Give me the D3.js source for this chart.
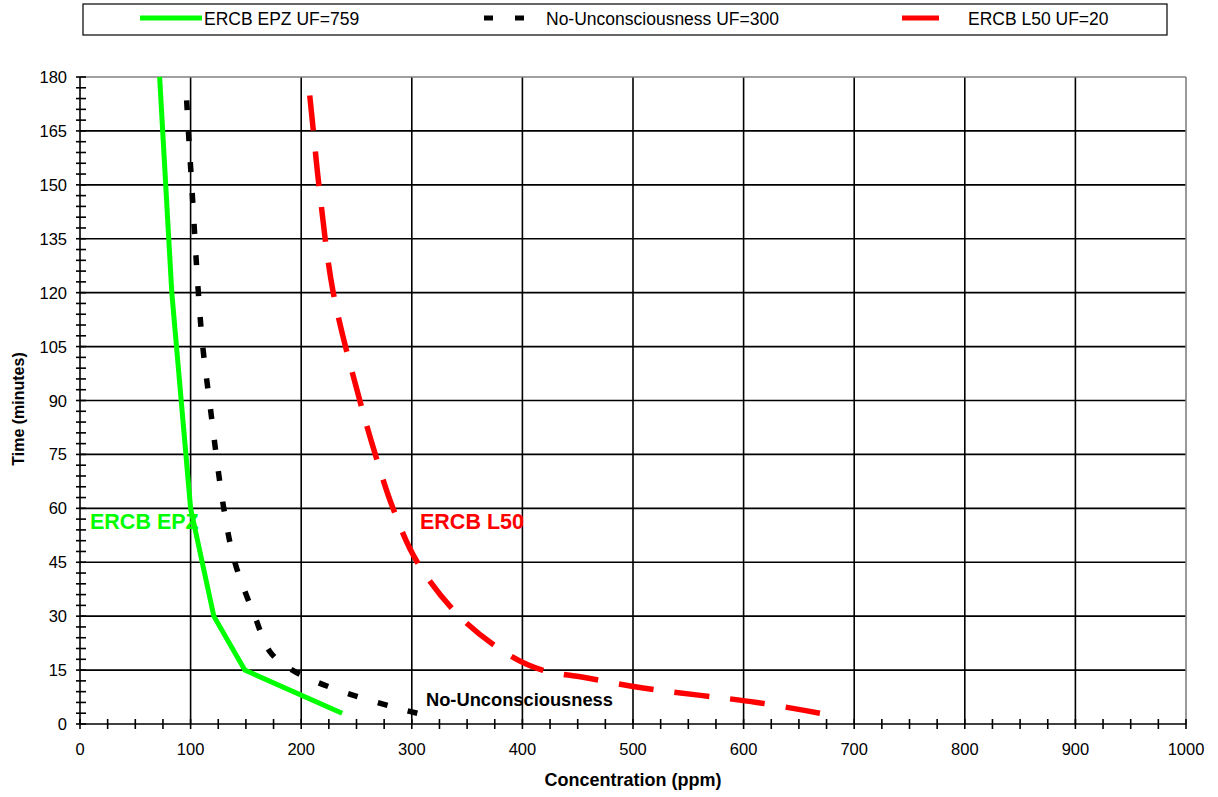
<!DOCTYPE html>
<html>
<head>
<meta charset="utf-8">
<script src="https://cdn.jsdelivr.net/npm/d3@7"></script>
<style>
  body { margin: 0; background: #fff; }
  svg { font-family: Arial, "Liberation Sans", sans-serif; }
</style>
</head>
<body>
<svg id="chart" width="1218" height="797"></svg>
<script>
// Data (time in minutes, concentration in ppm)
const epzTime = [3, 15, 30, 60, 120, 180];
const epzConc = [237, 149, 121, 100, 83, 72];

const unconTime = [3, 5, 10, 15, 20, 30, 45, 60, 90, 105, 120, 150, 165, 176];
const unconConc = [305, 280, 228, 192, 172, 158, 140, 130, 117, 111, 107, 101, 98, 96];

const l50Time = [3, 6, 10, 13, 15, 19, 30, 45, 60, 75, 90, 120, 150, 165, 180];
const l50Conc = [669, 612, 509, 455, 418, 389, 343, 305, 283, 267, 253, 229, 216, 211, 206];

const seriesNames = ['ERCB EPZ UF=759', 'No-Unconsciousness UF=300', 'ERCB L50 UF=20'];
const xTicks = [0, 100, 200, 300, 400, 500, 600, 700, 800, 900, 1000];
const yTicks = [0, 15, 30, 45, 60, 75, 90, 105, 120, 135, 150, 165, 180];

const svg = d3.select('#chart');
const plotLeft = 80, plotRight = 1186, plotTop = 77, plotBottom = 724;

const x = d3.scaleLinear().domain([0, 1000]).range([plotLeft, plotRight]);
const y = d3.scaleLinear().domain([0, 180]).range([plotBottom, plotTop]);

// Gridlines
svg.append('g')
    .selectAll('line')
    .data(xTicks.slice(1, -1))
    .enter().append('line')
    .attr('x1', d => x(d)).attr('x2', d => x(d))
    .attr('y1', plotTop).attr('y2', plotBottom)
    .attr('stroke', '#000').attr('stroke-width', 1.6);

svg.append('g')
    .selectAll('line')
    .data(yTicks.slice(1, -1))
    .enter().append('line')
    .attr('x1', plotLeft).attr('x2', plotRight)
    .attr('y1', d => y(d)).attr('y2', d => y(d))
    .attr('stroke', '#000').attr('stroke-width', 1.6);

// Plot border top / right (grey)
svg.append('line').attr('x1', plotLeft).attr('x2', plotRight).attr('y1', plotTop).attr('y2', plotTop)
    .attr('stroke', '#808080').attr('stroke-width', 1.6);
svg.append('line').attr('x1', plotRight).attr('x2', plotRight).attr('y1', plotTop).attr('y2', plotBottom)
    .attr('stroke', '#808080').attr('stroke-width', 1.6);

// Axes with crossing minor ticks
const xAxis = svg.append('g');
xAxis.append('line').attr('x1', plotLeft).attr('x2', plotRight).attr('y1', plotBottom).attr('y2', plotBottom)
    .attr('stroke', '#000').attr('stroke-width', 1.6);
xAxis.selectAll('line.tk').data(d3.range(0, 1001, 25)).enter().append('line')
    .attr('class', 'tk')
    .attr('x1', d => x(d)).attr('x2', d => x(d))
    .attr('y1', plotBottom - 5).attr('y2', plotBottom + 5)
    .attr('stroke', '#000').attr('stroke-width', 1.6);
xAxis.selectAll('text').data(xTicks).enter().append('text')
    .attr('x', d => x(d)).attr('y', plotBottom + 31)
    .attr('text-anchor', 'middle')
    .style('font-size', '16.5px')
    .text(d => d);

const yAxis = svg.append('g');
yAxis.append('line').attr('x1', plotLeft).attr('x2', plotLeft).attr('y1', plotTop).attr('y2', plotBottom)
    .attr('stroke', '#000').attr('stroke-width', 1.6);
yAxis.selectAll('line.tk').data(d3.range(0, 181, 3)).enter().append('line')
    .attr('class', 'tk')
    .attr('x1', plotLeft - 4).attr('x2', plotLeft + 6)
    .attr('y1', d => y(d)).attr('y2', d => y(d))
    .attr('stroke', '#000').attr('stroke-width', 1.6);
yAxis.selectAll('text').data(yTicks).enter().append('text')
    .attr('x', plotLeft - 13).attr('y', d => y(d) + 6)
    .attr('text-anchor', 'end')
    .style('font-size', '16.5px')
    .text(d => d);

// Axis titles
svg.append('text')
    .attr('x', 633).attr('y', 786)
    .attr('text-anchor', 'middle')
    .style('font-size', '18px').style('font-weight', 'bold')
    .text('Concentration (ppm)');
svg.append('text')
    .attr('transform', `translate(24, 409) rotate(-90)`)
    .attr('text-anchor', 'middle')
    .style('font-size', '16px').style('font-weight', 'bold')
    .text('Time (minutes)');

// Series lines
const lineLinear = d3.line().x(d => x(d[0])).y(d => y(d[1]));
const lineSmooth = d3.line().x(d => x(d[0])).y(d => y(d[1])).curve(d3.curveCatmullRom.alpha(0.5));

const plot = svg.append('g');
plot.append('path')
    .datum(epzConc.map((c, i) => [c, epzTime[i]]))
    .attr('d', lineLinear)
    .attr('fill', 'none').attr('stroke', '#00ff00').attr('stroke-width', 5);

plot.append('path')
    .datum(unconConc.map((c, i) => [c, unconTime[i]]))
    .attr('d', lineSmooth)
    .attr('fill', 'none').attr('stroke', '#000').attr('stroke-width', 5.5)
    .attr('stroke-dasharray', '10,21');

plot.append('path')
    .datum(l50Conc.map((c, i) => [c, l50Time[i]]))
    .attr('d', lineSmooth)
    .attr('fill', 'none').attr('stroke', '#ff0000').attr('stroke-width', 5.5)
    .attr('stroke-dasharray', '35,21');

// In-plot labels
svg.append('text').attr('x', 90).attr('y', 529)
    .style('font-size', '21.5px').style('font-weight', 'bold').attr('fill', '#00ff00')
    .text('ERCB EPZ');
svg.append('text').attr('x', 420).attr('y', 529)
    .style('font-size', '21.5px').style('font-weight', 'bold').attr('fill', '#ff0000')
    .text('ERCB L50');
svg.append('text').attr('x', 426).attr('y', 706)
    .style('font-size', '18.3px').style('font-weight', 'bold').attr('fill', '#000')
    .text('No-Unconsciousness');

// Legend
const legend = svg.append('g');
legend.append('rect').attr('x', 83).attr('y', 4).attr('width', 1084).attr('height', 31)
    .attr('fill', '#fff').attr('stroke', '#000').attr('stroke-width', 1.2);

const legendItems = [
    { name: seriesNames[0], color: '#00ff00', dash: null, x1: 140, x2: 202, tx: 204 },
    { name: seriesNames[1], color: '#000', dash: '9,22', x1: 484, x2: 526, tx: 546 },
    { name: seriesNames[2], color: '#ff0000', dash: null, x1: 902, x2: 939, tx: 968 }
];
legendItems.forEach(d => {
    legend.append('line')
        .attr('x1', d.x1).attr('x2', d.x2).attr('y1', 18).attr('y2', 18)
        .attr('stroke', d.color).attr('stroke-width', 5)
        .attr('stroke-dasharray', d.dash);
    legend.append('text').attr('x', d.tx).attr('y', 25)
        .style('font-size', '17.5px')
        .text(d.name);
});
</script>
</body>
</html>
